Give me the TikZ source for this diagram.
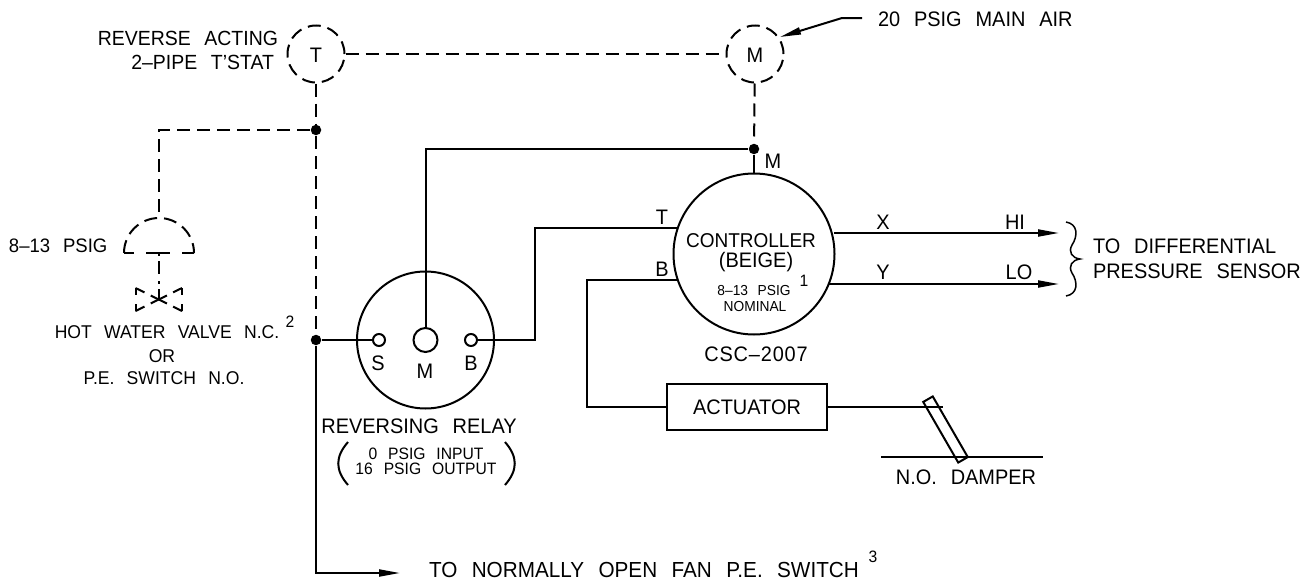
\documentclass[tikz,border=0pt]{standalone}
\usepackage{fontspec}
\setmainfont[FakeStretch=0.95,WordSpace=2.5]{Liberation Sans}
\usetikzlibrary{arrows.meta}
\tikzset{
  lab/.style={inner sep=0pt,font=\fontsize{21}{24}\selectfont},
  widelab/.style={inner sep=0pt,font=\fontsize{21.8}{24}\selectfont},
  midlab/.style={inner sep=0pt,font=\fontsize{18.5}{22}\selectfont},
  smalllab/.style={inner sep=0pt,font=\fontsize{16.5}{20}\selectfont},
  tinylab/.style={inner sep=0pt,font=\fontsize{14.5}{17}\selectfont},
  pneu/.style={dash pattern=on 13pt off 7pt},
  dot/.style={circle,fill=black,inner sep=0pt,minimum size=10.5pt},
  port/.style={circle,draw,fill=white,inner sep=0pt,minimum size=12pt},
  gauge/.style={circle,draw,pneu,inner sep=0pt,minimum size=57pt},
  unit/.style={circle,draw,inner sep=0pt},
  flow/.style={-{Triangle[length=21pt,width=7pt]}}
}
\begin{document}
\begin{tikzpicture}[x=1pt,y=-1pt,line width=2pt]
  \useasboundingbox (0,0) rectangle (1315,581);
  % thermostat and main air
  \node[gauge] (tstat) at (316,54) {};
  \node[gauge] (mainair) at (755,54) {};
  \node[lab] (tlab) at (316,55) {T};
  \node[lab] (mlab) at (755,55) {M};
  \node[lab,anchor=east,font=\fontsize{20.5}{24}\selectfont] (revlab) at (279,38) {REVERSE ACTING};
  \node[lab,anchor=east,font=\fontsize{20.5}{24}\selectfont] (pipelab) at (275,62) {2--PIPE T'STAT};
  \node[lab,anchor=west] (airlab) at (877,19) {20 PSIG MAIN AIR};
  \coordinate (airend) at (862,18);
  \coordinate (airbend) at (842,18);
  \coordinate (airtip) at (780,37);
  \draw[flow] (airend) -- (airbend) -- (airtip);
  \draw[pneu] (tstat) -- (mainair);
  % junctions
  \node[dot] (jtop) at (316,130) {};
  \node[dot] (jrelay) at (316,340) {};
  \node[dot] (jmain) at (754,149) {};
  \draw[pneu] (tstat) -- (jtop);
  \draw[pneu] (jtop) -- (jrelay);
  \draw[pneu] (mainair) -- (jmain);
  % valve
  \coordinate (dometop) at (159,218);
  \coordinate (domebase) at (159,253);
  \coordinate (valve) at (159,299);
  \draw[pneu] (jtop) -| (dometop);
  \draw[pneu] (124,253) arc (180:0:35pt);
  \draw[dash pattern=on 10pt off 12pt on 24pt off 12pt on 12pt off 0pt] (124,253) -- (194,253);
  \draw[dash pattern=on 3pt off 5pt on 13pt off 7pt] (domebase) -- (valve);
  \draw[dash pattern=on 10pt off 7pt on 18pt off 7pt on 10pt off 0pt] (135.5,288) -- (182,311);
  \draw[dash pattern=on 10pt off 7pt on 18pt off 7pt on 10pt off 0pt] (135.5,311) -- (182,288);
  \draw[dash pattern=on 7pt off 9pt on 7pt off 0pt] (135.5,288) -- (135.5,311);
  \draw[dash pattern=on 7pt off 9pt on 7pt off 0pt] (182,288) -- (182,311);
  \node[lab,anchor=west,font=\fontsize{19.5}{22}\selectfont] (psiglab) at (8,246) {8--13 PSIG};
  \node[midlab] (hotlab) at (167,332) {HOT WATER VALVE N.C.};
  \node[midlab] (orlab) at (162,356) {OR};
  \node[midlab] (pelab) at (164,378) {P.E. SWITCH N.O.};
  \node[smalllab] (notetwo) at (290,322) {2};
  % reversing relay
  \node[unit,minimum size=137pt] (relay) at (425.5,340) {};
  \node[port] (relays) at (379,340) {};
  \node[circle,draw,fill=white,inner sep=0pt,minimum size=24pt] (relaym) at (425.5,340) {};
  \node[port] (relayb) at (471,340) {};
  \node[lab] (slab) at (378,363) {S};
  \node[lab] (rmlab) at (425,371) {M};
  \node[lab] (blab) at (471,363) {B};
  \node[lab] (rellab) at (419,426) {REVERSING RELAY};
  \node[smalllab] (inlab) at (426,454) {0 PSIG INPUT};
  \node[smalllab] (outlab) at (426,469) {16 PSIG OUTPUT};
  \draw (348,442) .. controls (335,457) and (335,470) .. (348,485);
  \draw (505,442) .. controls (518,457) and (518,470) .. (505,485);
  \draw (jrelay) -- (relays);
  \draw (relaym) |- (jmain);
  % controller
  \node[unit,minimum size=161pt] (ctrl) at (754,254) {};
  \node[lab,font=\fontsize{20}{24}\selectfont] (ctrllab) at (751,241) {CONTROLLER};
  \node[lab] (beigelab) at (756,262) {(BEIGE)};
  \node[tinylab] (nomtop) at (754,291) {8--13 PSIG};
  \node[tinylab] (nomlab) at (755,307) {NOMINAL};
  \node[smalllab] (noteone) at (804,281) {1};
  \node[lab,font=\fontsize{21}{24}\selectfont\addfontfeature{LetterSpace=4}] (csclab) at (756,354) {CSC--2007};
  \node[lab] (cmlab) at (773,161) {M};
  \node[lab] (ctlab) at (662,217) {T};
  \node[lab] (cblab) at (662,269) {B};
  \node[lab] (xlab) at (883,222) {X};
  \node[lab] (ylab) at (883,272) {Y};
  \node[lab] (hilab) at (1015,222) {HI};
  \node[lab] (lolab) at (1019,272) {LO};
  \draw (jmain) -- (ctrl);
  \coordinate (ctin) at (677,228);
  \coordinate (cbin) at (677,280);
  \coordinate (xout) at (834,233);
  \coordinate (yout) at (829,284);
  \coordinate (xtip) at (1059,233);
  \coordinate (ytip) at (1059,284);
  \coordinate (relayup) at (535,340);
  \coordinate (bdown) at (587,407);
  \draw (relayb) -- (relayup) |- (ctin);
  \draw[flow] (xout) -- (xtip);
  \draw[flow] (yout) -- (ytip);
  \draw[line width=1.5pt] (1066,222) .. controls (1078,224) and (1078,236) .. (1072,245)
     .. controls (1068,252) and (1072,258) .. (1080,259)
     .. controls (1072,260) and (1068,266) .. (1072,273)
     .. controls (1078,282) and (1078,294) .. (1066,296);
  \node[lab,anchor=west] (difflab) at (1092,246) {TO DIFFERENTIAL};
  \node[lab,anchor=west] (senslab) at (1092,271) {PRESSURE SENSOR};
  % actuator and damper
  \node[draw,lab,minimum width=160pt,minimum height=46pt] (act) at (747,407) {ACTUATOR};
  \node[draw,inner sep=0pt,minimum width=70pt,minimum height=11pt,rotate=-60] (damper) at (945.5,429.5) {};
  \coordinate (damperarm) at (943,407);
  \coordinate (baseleft) at (881,457);
  \coordinate (baseright) at (1043,457);
  \draw (cbin) -| (bdown) -- (act);
  \draw (act) -- (damperarm);
  \draw (baseleft) -- (baseright);
  \node[lab] (damplab) at (966,477) {N.O. DAMPER};
  % fan switch
  \coordinate (fanbend) at (316,573);
  \coordinate (fantip) at (400,573);
  \draw[flow] (jrelay) -- (fanbend) -- (fantip);
  \node[widelab,anchor=west] (fanlab) at (428,569.5) {TO NORMALLY OPEN FAN P.E. SWITCH};
  \node[smalllab] (notethree) at (873,557) {3};
\end{tikzpicture}
\end{document}
